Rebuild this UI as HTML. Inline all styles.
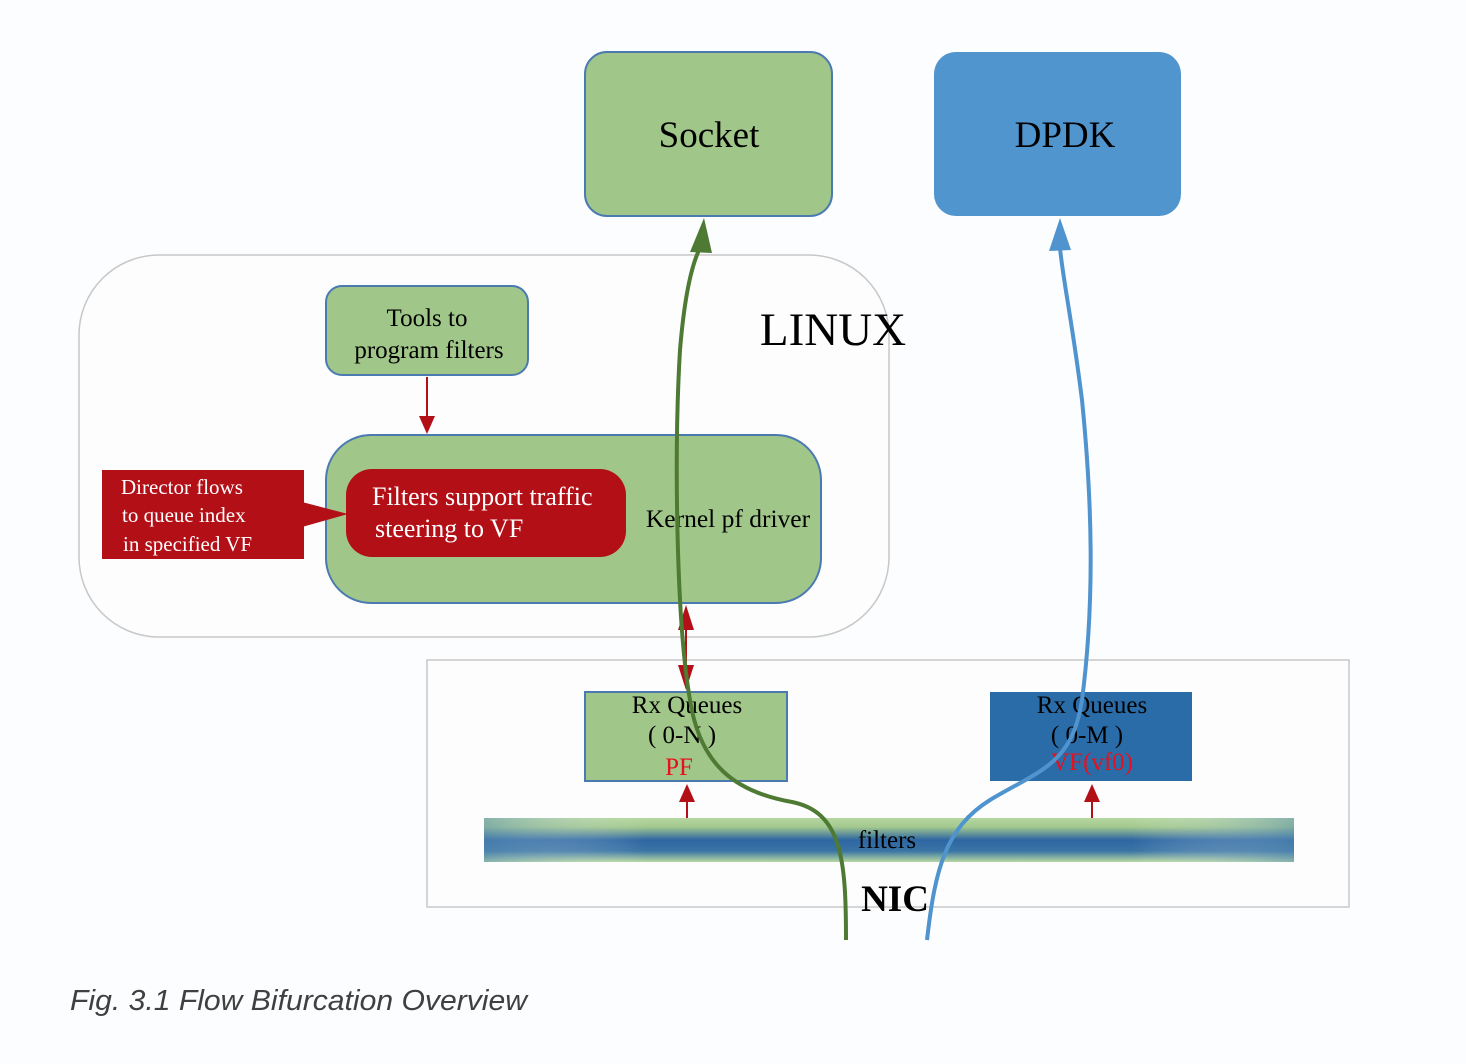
<!DOCTYPE html>
<html><head><meta charset="utf-8"><style>
html,body{margin:0;padding:0;background:#fcfdfe;}
svg{display:block;}
</style></head><body>
<svg width="1466" height="1064" viewBox="0 0 1466 1064" xmlns="http://www.w3.org/2000/svg">
<defs>
<linearGradient id="fg" x1="0" y1="0" x2="0" y2="1">
<stop offset="0" stop-color="#b5d6a0"/>
<stop offset="0.2" stop-color="#a3c98e"/>
<stop offset="0.5" stop-color="#2e66a3"/>
<stop offset="0.75" stop-color="#3a74a5"/>
<stop offset="1" stop-color="#b8d9a2"/>
</linearGradient>
<linearGradient id="fh" x1="0" y1="0" x2="1" y2="0">
<stop offset="0" stop-color="#5a8fb5" stop-opacity="0.5"/>
<stop offset="0.2" stop-color="#fff" stop-opacity="0"/>
<stop offset="0.8" stop-color="#fff" stop-opacity="0"/>
<stop offset="1" stop-color="#5a8fb5" stop-opacity="0.5"/>
</linearGradient>
</defs>
<rect width="1466" height="1064" fill="#fcfdfe"/>
<rect x="585" y="52" width="247" height="164" rx="22" fill="#a1c689" stroke="#4a7ab0" stroke-width="2"/>
<text x="709" y="147" font-family="Liberation Serif, serif" font-size="37" text-anchor="middle">Socket</text>
<rect x="934" y="52" width="247" height="164" rx="22" fill="#5195cf"/>
<text x="1065" y="147" font-family="Liberation Serif, serif" font-size="37" text-anchor="middle">DPDK</text>
<rect x="79" y="255" width="810" height="382" rx="80" fill="#fdfdfe" stroke="#c8c8c8" stroke-width="1.5"/>
<text x="833" y="345" font-family="Liberation Serif, serif" font-size="47" text-anchor="middle">LINUX</text>
<rect x="326" y="286" width="202" height="89" rx="16" fill="#a1c689" stroke="#4a7ab0" stroke-width="2"/>
<text x="427" y="326" font-family="Liberation Serif, serif" font-size="25" text-anchor="middle">Tools to</text>
<text x="429" y="358" font-family="Liberation Serif, serif" font-size="25" text-anchor="middle">program filters</text>
<line x1="427" y1="377" x2="427" y2="418" stroke="#b30f17" stroke-width="2"/>
<polygon points="419,416 435,416 427,434" fill="#b30f17"/>
<rect x="326" y="435" width="495" height="168" rx="45" fill="#a1c689" stroke="#4a7ab0" stroke-width="2"/>
<text x="728" y="527" font-family="Liberation Serif, serif" font-size="25.5" text-anchor="middle">Kernel pf driver</text>
<rect x="346" y="469" width="280" height="88" rx="26" fill="#b30f17"/>
<text x="372" y="505" font-family="Liberation Serif, serif" font-size="26" fill="#fff">Filters support traffic</text>
<text x="375" y="537" font-family="Liberation Serif, serif" font-size="26" fill="#fff">steering to VF</text>
<rect x="102" y="470" width="202" height="89" fill="#b30f17"/>
<polygon points="302,502 348,514 302,527" fill="#b30f17"/>
<text x="121" y="494" font-family="Liberation Serif, serif" font-size="21" fill="#fff">Director flows</text>
<text x="122" y="522" font-family="Liberation Serif, serif" font-size="21" fill="#fff">to queue index</text>
<text x="123" y="551" font-family="Liberation Serif, serif" font-size="21" fill="#fff">in specified VF</text>
<rect x="427" y="660" width="922" height="247" fill="#fdfdfe" stroke="#c8c8c8" stroke-width="1.5"/>
<line x1="686" y1="625" x2="686" y2="670" stroke="#b30f17" stroke-width="2"/>
<polygon points="678,630 694,630 686,605" fill="#b30f17"/>
<polygon points="678,665 694,665 686,690" fill="#b30f17"/>
<rect x="585" y="692" width="202" height="89" fill="#a1c689" stroke="#4a7ab0" stroke-width="2"/>
<text x="687" y="713" font-family="Liberation Serif, serif" font-size="25" text-anchor="middle">Rx Queues</text>
<text x="682" y="743" font-family="Liberation Serif, serif" font-size="25" text-anchor="middle">( 0-N )</text>
<text x="679" y="775" font-family="Liberation Serif, serif" font-size="25" text-anchor="middle" fill="#e8101c">PF</text>
<rect x="990" y="692" width="202" height="89" fill="#2a6ca8"/>
<text x="1092" y="713" font-family="Liberation Serif, serif" font-size="25" text-anchor="middle">Rx Queues</text>
<text x="1087" y="743" font-family="Liberation Serif, serif" font-size="25" text-anchor="middle">( 0-M )</text>
<text x="1092" y="770" font-family="Liberation Serif, serif" font-size="25" text-anchor="middle" fill="#e8101c">VF(vf0)</text>
<line x1="687" y1="818" x2="687" y2="800" stroke="#b30f17" stroke-width="2"/>
<polygon points="679,802 695,802 687,784" fill="#b30f17"/>
<line x1="1092" y1="818" x2="1092" y2="800" stroke="#b30f17" stroke-width="2"/>
<polygon points="1084,802 1100,802 1092,784" fill="#b30f17"/>
<rect x="484" y="818" width="810" height="44" fill="url(#fg)"/>
<rect x="484" y="818" width="810" height="44" fill="url(#fh)"/>
<text x="887" y="848" font-family="Liberation Serif, serif" font-size="25" text-anchor="middle">filters</text>
<text x="895" y="911" font-family="Liberation Serif, serif" font-size="37" font-weight="bold" text-anchor="middle">NIC</text>
<path d="M846,940 C846,860 842,812 792,802 C735,792 700,765 690,700 C676,620 674,450 680,350 C685,290 693,262 700,248" fill="none" stroke="#4e7a34" stroke-width="4"/>
<polygon points="690,252 704,218 712,253" fill="#4e7a34"/>
<path d="M927,940 C935,870 945,828 990,800 C1040,770 1072,765 1082,700 C1095,600 1092,500 1082,400 C1072,320 1063,280 1060,248" fill="none" stroke="#4f93cf" stroke-width="4"/>
<polygon points="1049,251 1060,218 1071,250" fill="#4f93cf"/>
<text x="70" y="1010" font-family="Liberation Sans, sans-serif" font-size="29" font-style="italic" fill="#404040" textLength="457" lengthAdjust="spacingAndGlyphs">Fig. 3.1 Flow Bifurcation Overview</text>
</svg>
</body></html>
